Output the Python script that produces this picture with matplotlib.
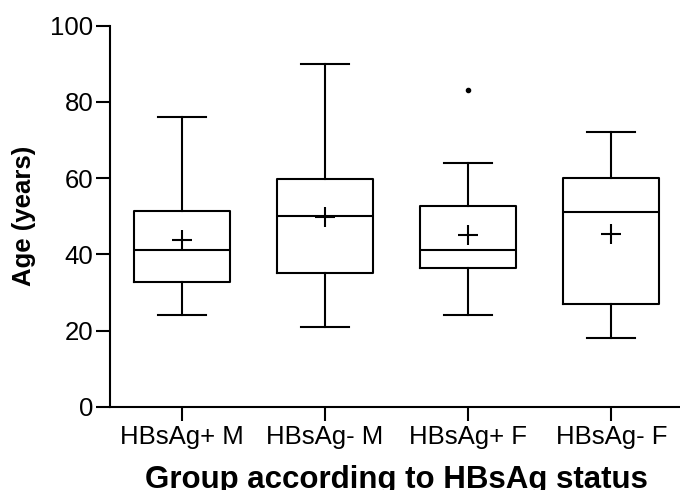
import numpy as np
import matplotlib
matplotlib.use("Agg")
import matplotlib.pyplot as plt

plt.rcParams['font.family'] = ['Liberation Sans', 'DejaVu Sans']

# data
groups = ["HBsAg+ M", "HBsAg- M", "HBsAg+ F", "HBsAg- F"]
whislo = [24, 21, 24, 18]
q1 = [32.7, 35.2, 36.5, 27]
med = [41, 50, 41, 51]
q3 = [51.4, 59.7, 52.8, 59.9]
whishi = [76, 90, 64, 72]
means = [43.7, 49.8, 45, 45.3]
fliers = [[], [], [83], []]

stats = []
for i in range(len(groups)):
    stats.append(dict(whislo=whislo[i], q1=q1[i], med=med[i], q3=q3[i],
                      whishi=whishi[i], mean=means[i], fliers=fliers[i],
                      label=groups[i]))

fig = plt.figure(figsize=(6.8, 4.9), dpi=100)
ax = fig.add_axes([110/680, 1 - 406.7/490, 573/680, 381/490])

lw = 1.5
ax.bxp(stats, positions=np.arange(len(groups)), widths=0.67, showmeans=True,
       showfliers=True, capwidths=0.335,
       boxprops=dict(color='black', linewidth=lw),
       medianprops=dict(color='black', linewidth=lw),
       whiskerprops=dict(color='black', linewidth=lw),
       capprops=dict(color='black', linewidth=lw),
       meanprops=dict(marker='+', markersize=15, markeredgecolor='black',
                      markeredgewidth=1.5),
       flierprops=dict(marker='o', markersize=3, markerfacecolor='black',
                       markeredgecolor='black'))

ax.set_xlim(-0.5, 3.5)
ax.set_ylim(0, 100)
ax.set_yticks([0, 20, 40, 60, 80, 100])
ax.spines['top'].set_visible(False)
ax.spines['right'].set_visible(False)
ax.spines['left'].set_linewidth(lw)
ax.spines['bottom'].set_linewidth(lw)
ax.tick_params(axis='both', direction='out', length=10, width=lw,
               colors='black')
ax.tick_params(axis='y', labelsize=18.5, pad=2)
ax.tick_params(axis='x', labelsize=18.5, pad=3)

ax.set_xlabel("Group according to HBsAg status", fontsize=22.5,
              fontweight='bold', labelpad=12)
ax.set_ylabel("Age (years)", fontsize=18.5, fontweight='bold', labelpad=10)

fig.savefig("out.png", dpi=100)
